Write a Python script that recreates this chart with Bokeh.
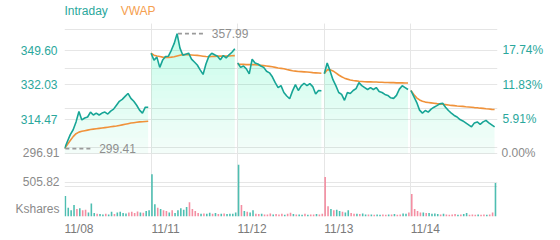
import numpy as np
from bokeh.plotting import figure
from bokeh.models import (Range1d, LinearAxis, FixedTicker, PrintfTickFormatter,
                          Grid, ColumnDataSource)
from bokeh.embed import file_html
from bokeh.resources import INLINE
from bokeh.core.properties import value

# ---------------- data ----------------
days = ["11/08", "11/11", "11/12", "11/13", "11/14"]
series_names = ["Intraday", "VWAP"]
prev_close = 296.91
price_ticks = [296.91, 314.47, 332.03, 349.60]
pct_ticks = [0.00, 5.91, 11.83, 17.74]
vol_ticks = [505.82]

price_d1 = [299.41, 303.0, 306.5, 309.0, 313.0, 318.3, 314.0, 315.0, 315.5, 318.0,
            316.5, 317.5, 316.5, 317.5, 318.0, 317.0, 318.5, 319.5, 321.5, 323.5,
            324.5, 326.0, 327.5, 325.0, 323.5, 321.5, 319.0, 317.5, 320.5, 320.5]
price_d2 = [348.0, 344.5, 346.0, 340.8, 344.5, 346.3, 346.5, 349.5, 353.0, 357.99,
            350.6, 347.0, 347.5, 348.0, 345.0, 343.5, 342.0, 339.5, 337.2, 342.5,
            346.4, 348.0, 347.2, 346.5, 344.7, 346.8, 345.6, 347.2, 348.5, 350.3]
price_d3 = [343.1, 340.8, 341.5, 340.0, 337.5, 345.0, 343.0, 342.5, 341.5, 340.8,
            338.8, 338.0, 336.0, 333.0, 330.5, 331.5, 328.0, 326.2, 324.8, 328.8,
            332.0, 329.0, 331.4, 332.7, 331.5, 332.5, 331.0, 327.2, 329.0, 328.9]
price_d4 = [337.5, 343.0, 339.0, 334.5, 331.5, 328.0, 327.0, 324.0, 328.0, 327.5,
            329.0, 330.0, 333.0, 331.5, 330.5, 329.5, 330.5, 329.5, 330.5, 328.5,
            328.0, 327.0, 326.5, 325.3, 325.0, 326.5, 329.7, 331.4, 330.5, 329.5]
price_d5 = [329.0, 326.0, 323.0, 319.0, 317.5, 318.8, 318.0, 319.5, 320.5, 321.3,
            322.2, 322.5, 320.5, 318.8, 317.5, 316.3, 315.5, 314.2, 313.5, 312.5,
            311.5, 310.5, 312.5, 313.0, 311.8, 313.0, 313.8, 312.5, 311.5, 310.5]

vwap_d1 = [299.41, 301.5, 303.5, 305.5, 307.0, 307.8, 308.2, 308.5, 308.8, 309.1,
           309.3, 309.5, 309.7, 309.9, 310.1, 310.3, 310.5, 310.7, 310.9, 311.2,
           311.5, 311.8, 312.1, 312.4, 312.6, 312.8, 313.0, 313.1, 313.2, 313.3]
vwap_d2 = [348.0, 347.0, 346.6, 346.3, 346.0, 345.9, 345.9, 346.0, 346.2, 346.6,
           347.0, 347.3, 347.3, 347.2, 347.1, 347.0, 346.9, 346.7, 346.5, 346.3,
           346.2, 346.3, 346.4, 346.5, 346.5, 346.5, 346.5, 346.6, 346.7, 346.8]
vwap_d3 = [342.3, 342.3, 342.3, 342.2, 342.2, 342.2, 342.1, 342.0, 341.9, 341.7,
           341.5, 341.3, 341.1, 340.8, 340.5, 340.3, 340.1, 339.7, 339.4, 339.1,
           338.9, 338.7, 338.6, 338.5, 338.4, 338.3, 338.1, 338.0, 337.9, 337.8]
vwap_d4 = [337.7, 339.5, 339.6, 339.0, 338.0, 336.9, 336.0, 335.3, 334.8, 334.4,
           334.1, 333.9, 333.7, 333.6, 333.5, 333.4, 333.4, 333.3, 333.3, 333.2,
           333.2, 333.1, 333.1, 333.0, 333.0, 332.9, 332.9, 332.9, 332.8, 332.8]
vwap_d5 = [329.0, 327.0, 325.3, 324.2, 323.5, 323.1, 322.9, 322.7, 322.5, 322.3,
           322.2, 322.0, 321.8, 321.6, 321.4, 321.3, 321.1, 321.0, 320.9, 320.7,
           320.6, 320.5, 320.3, 320.2, 320.0, 319.9, 319.7, 319.6, 319.4, 319.3]

vol_d1 = [300, 130, 90, 170, 110, 120, 90, 100, 60, 190, 50, 40, 35, 30, 40,
          30, 70, 35, 60, 70, 50, 45, 60, 70, 50, 75, 60, 55, 80, 90]
vol_d2 = [620, 180, 130, 110, 90, 80, 60, 90, 50, 90, 120, 100, 140, 210, 110,
          80, 50, 40, 45, 40, 55, 40, 50, 35, 40, 45, 35, 40, 40, 60]
vol_d3 = [760, 170, 80, 70, 60, 90, 40, 35, 40, 30, 30, 45, 30, 35, 30,
          40, 25, 40, 55, 35, 30, 30, 25, 40, 25, 30, 30, 35, 30, 40]
vol_d4 = [580, 150, 110, 90, 100, 80, 70, 60, 90, 50, 40, 40, 35, 45, 30,
          30, 30, 25, 30, 25, 30, 25, 30, 30, 35, 25, 30, 45, 40, 60]
vol_d5 = [330, 110, 80, 60, 60, 50, 50, 40, 45, 35, 30, 40, 30, 25, 30,
          35, 25, 30, 35, 50, 25, 30, 25, 30, 25, 30, 25, 30, 60, 490]

# bar direction: u = up (teal), d = down (pink)
dir_d1 = "u u u u d u d d u u  u d u u d u u d u u  u u d d d d u d u u".split()
dir_d2 = "u u d u d d u d u u  u u u d d d d u d u  u d u d u d u u u u".split()
dir_d3 = "u d u d u u d d u d  d d u d d d u d d u  d u u d u d d u d d".split()
dir_d4 = "d d u d u u d u u d  d u d u u d u d u u  d d u d u d d u u d".split()
dir_d5 = "d d d d u d u u u u  d u d d d d u d u u  d d d u d d u d d u".split()

prices = [price_d1, price_d2, price_d3, price_d4, price_d5]
vwaps = [vwap_d1, vwap_d2, vwap_d3, vwap_d4, vwap_d5]
vols = [vol_d1, vol_d2, vol_d3, vol_d4, vol_d5]
dirs = [dir_d1, dir_d2, dir_d3, dir_d4, dir_d5]

# ---------------- style ----------------
FONT = "Liberation Sans"
TEAL = "#17a596"
TEAL_LBL = "#2aa79c"
ORANGE = "#f0923a"
ORANGE_LBL = "#f5a050"
GRAY = "#8a8a8a"
GRID = "#e6e6e6"
UP = "#2fb3a3"
DOWN = "#f27a92"

y0, y1 = 264.79, 363.15
vol_top = 2832.6
p = figure(width=560, height=240, output_backend="svg", toolbar_location=None,
           x_range=Range1d(0, 5), y_range=Range1d(y0, y1),
           min_border_left=64, min_border_right=63, min_border_top=20,
           min_border_bottom=24, x_axis_location=None, y_axis_location=None)
p.outline_line_color = None
p.background_fill_color = "white"
p.border_fill_color = "white"
p.extra_y_ranges = {
    "vol": Range1d(0, vol_top),
    "pct": Range1d((y0 / prev_close - 1) * 100, (y1 / prev_close - 1) * 100),
}

# grids
p.add_layout(Grid(dimension=0, ticker=FixedTicker(ticks=list(range(len(days) + 1))),
                  grid_line_color=GRID))
p.add_layout(Grid(dimension=1, ticker=FixedTicker(ticks=price_ticks), grid_line_color=GRID))
p.add_layout(Grid(dimension=1, y_range_name="vol", ticker=FixedTicker(ticks=vol_ticks),
                  grid_line_color=GRID))

# gradient-like fill under price (stacked translucent layers)
levels = [prev_close] + [prev_close + 4 * i for i in range(1, 16)]
for d, pr in enumerate(prices):
    n = len(pr)
    xs = d + np.arange(n) / n
    arr = np.array(pr)
    for i, L in enumerate(levels):
        a = 0.055 if i == 0 else 0.0135
        p.varea(x=xs, y1=np.full(n, L), y2=np.maximum(arr, L),
                fill_color="#22d892", fill_alpha=a)

# price & vwap lines (NaN breaks between days)
px, py, vy = [], [], []
for d, (pr, vw) in enumerate(zip(prices, vwaps)):
    n = len(pr)
    px += list(d + np.arange(n) / n) + [np.nan]
    py += list(pr) + [np.nan]
    vy += list(vw) + [np.nan]
p.line(px, vy, line_color=ORANGE, line_width=1.6)
p.line(px, py, line_color=TEAL, line_width=1.6)

# volume bars
vx, vt, vc = [], [], []
for d, (vl, dr) in enumerate(zip(vols, dirs)):
    n = len(vl)
    for k in range(n):
        vx.append(d + (k + 0.3) / n)
        vt.append(vl[k])
        vc.append(UP if dr[k] == "u" else DOWN)
vsrc = ColumnDataSource(dict(x=vx, top=vt, color=vc))
p.vbar(x="x", top="top", bottom=0, width=0.55 / 30, source=vsrc, y_range_name="vol",
       fill_color="color", line_color=None, fill_alpha=0.85)

# high / low annotations
all_p = [v for pr in prices for v in pr]
hi = max(all_p); lo = min(all_p)
for val in (hi, lo):
    for d, pr in enumerate(prices):
        if val in pr:
            xk = d + pr.index(val) / len(pr)
            break
    p.line([xk + 0.01, xk + 0.33], [val, val], line_color="#9a9a9a", line_width=1.8,
           line_dash="4 3")
    p.text(x=[xk + 0.40], y=[val], text=[f"{val:.2f}"], text_color="#8f8f8f",
           text_font=value(FONT), text_font_size="12px", text_baseline="middle",
           text_align="left")

# axes
def style(ax, color, standoff):
    ax.axis_line_color = None
    ax.major_tick_line_color = None
    ax.minor_tick_line_color = None
    ax.major_tick_in = 0
    ax.major_tick_out = 0
    ax.minor_tick_out = 0
    ax.major_label_text_color = color
    ax.major_label_text_font = FONT
    ax.major_label_text_font_size = "12px"
    ax.major_label_standoff = standoff

# left: teal price labels nearest the frame
ax1 = LinearAxis(ticker=FixedTicker(ticks=[t for t in price_ticks if t > prev_close]),
                 formatter=PrintfTickFormatter(format="%.2f"))
style(ax1, TEAL_LBL, 7)
p.add_layout(ax1, "left")

# gray labels (previous close, volume scale) pulled into the same column
base_on_vol = (prev_close - y0) / (y1 - y0) * vol_top
kshares_at = 115.0
ax3 = LinearAxis(y_range_name="vol",
                 ticker=FixedTicker(ticks=[base_on_vol] + vol_ticks + [kshares_at]),
                 formatter=PrintfTickFormatter(format="%.2f"),
                 major_label_overrides={base_on_vol: f"{prev_close:.2f}",
                                        kshares_at: "Kshares"})
style(ax3, GRAY, -42)
p.add_layout(ax3, "left")

ax4 = LinearAxis(y_range_name="pct", ticker=FixedTicker(ticks=[t for t in pct_ticks if t > 0]),
                 formatter=PrintfTickFormatter(format="%.2f%%"))
style(ax4, TEAL_LBL, 5)
p.add_layout(ax4, "right")

ax5 = LinearAxis(y_range_name="pct", ticker=FixedTicker(ticks=[t for t in pct_ticks if t <= 0]),
                 formatter=PrintfTickFormatter(format="%.2f%%"))
style(ax5, GRAY, -45)
p.add_layout(ax5, "right")

xt = [d + 0.167 for d in range(len(days))]
axx = LinearAxis(ticker=FixedTicker(ticks=xt),
                 major_label_overrides={t: lab for t, lab in zip(xt, days)})
style(axx, "#7a7a7a", 5)
p.add_layout(axx, "below")

# series names above the chart, each in its own colour
leg_pos = [0.25, 0.85]
axl1 = LinearAxis(ticker=FixedTicker(ticks=[leg_pos[0]]),
                  major_label_overrides={leg_pos[0]: series_names[0]})
style(axl1, TEAL_LBL, 6)
p.add_layout(axl1, "above")
axl2 = LinearAxis(ticker=FixedTicker(ticks=[leg_pos[1]]),
                  major_label_overrides={leg_pos[1]: series_names[1]})
style(axl2, ORANGE_LBL, -17)
p.add_layout(axl2, "above")

open("out.html", "w").write(file_html(p, INLINE))
